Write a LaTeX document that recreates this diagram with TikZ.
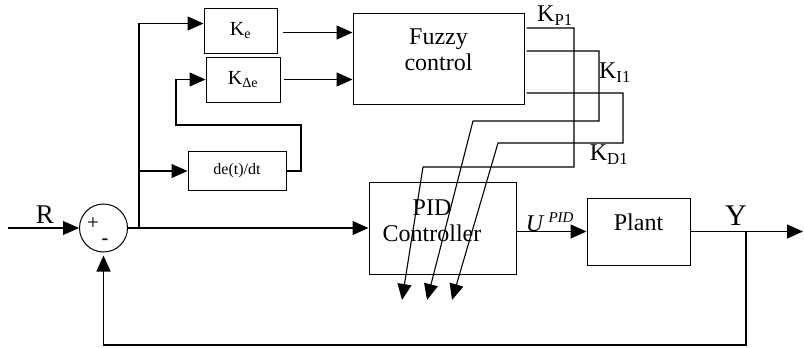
\documentclass[tikz,border=0pt]{standalone}
\usepackage{fontspec}
\setmainfont{Liberation Serif}
\usetikzlibrary{arrows.meta}

\tikzset{
    blk/.style={draw, line width=1pt, inner sep=0pt},
    sig/.style={line width=1.1pt},
    big/.style={font=\fontsize{24}{26}\selectfont},
}

\begin{document}
\begin{tikzpicture}[x=1pt, y=-1pt, >={Triangle[length=16pt,width=14pt]}]
    \useasboundingbox (0,0) rectangle (804,348);

    % Summing junction
    \node[blk, circle, minimum size=48pt] (sum) at (103.5,228) {};
    \node[font=\fontsize{21}{21}\selectfont] (plus) at (93,224) {+};
    \node[font=\fontsize{20}{20}\selectfont\bfseries] (minus) at (105,242) {-};

    % Reference input R
    \coordinate (rin) at (8,228);
    \draw[sig, ->] (rin) -- (sum.west);
    \node[font=\fontsize{27}{27}\selectfont] (rlab) at (45,215) {R};

    % Error branch
    \coordinate (b1) at (139,228);
    \draw[sig] (sum.east) -- (b1);

    % Gains and derivative
    \node[blk, minimum width=73pt, minimum height=45pt, font=\fontsize{20}{20}\selectfont] (ke) at (240.5,30.5) {K\textsubscript{e}};
    \node[blk, minimum width=74pt, minimum height=45pt, font=\fontsize{20}{20}\selectfont] (kde) at (243,79.5) {K\textsubscript{Δe}};
    \node[blk, minimum width=98pt, minimum height=39pt, font=\fontsize{16}{16}\selectfont] (dedt) at (237,171) {de(t)/dt};

    \draw[sig, ->] (b1) |- ([yshift=7pt]ke.west);
    \draw[sig, ->] (b1 |- dedt.west) -- (dedt.west);
    \coordinate (fb1) at (301,125);
    \coordinate (fb2) at (176,125);
    \draw[sig, ->] (dedt.east) -| (fb1) -- (fb2) |- (kde.west);

    % Fuzzy control
    \node[blk, minimum width=171pt, minimum height=91pt] (fuzzy) at (438.5,58.5) {};
    \node[big, align=center] (fuzzytxt) at (438.5,50) {Fuzzy\\control};
    \draw[sig, ->, shorten <=5pt] ([yshift=-2pt]ke.east) -- ([yshift=-2pt]ke.east -| fuzzy.west);
    \draw[sig, ->, shorten <=3pt] (kde.east) -- (kde.east -| fuzzy.west);

    % Tuned gains to PID
    \coordinate (p1) at (574,28);
    \coordinate (p2) at (574,167);
    \coordinate (p3) at (423,167);
    \coordinate (p4) at (402,300);
    \coordinate (i1) at (599,51);
    \coordinate (i2) at (599,121);
    \coordinate (i3) at (473,121);
    \coordinate (i4) at (427,300);
    \coordinate (d1) at (623,93);
    \coordinate (d2) at (623,143);
    \coordinate (d3) at (498,143);
    \coordinate (d4) at (452,300);
    \draw[sig, ->, shorten <=2pt] (fuzzy.east |- p1) -- (p1) -- (p2) -- (p3) -- (p4);
    \draw[sig, ->, shorten <=2pt] (fuzzy.east |- i1) -- (i1) -- (i2) -- (i3) -- (i4);
    \draw[sig, ->, shorten <=2pt] (fuzzy.east |- d1) -- (d1) -- (d2) -- (d3) -- (d4);
    \node[big] (kplab) at (555,16) {K\textsubscript{P1}};
    \node[big] (kilab) at (615,73) {K\textsubscript{I1}};
    \node[big] (kdlab) at (609,155) {K\textsubscript{D1}};

    % PID controller
    \node[blk, minimum width=147pt, minimum height=92pt] (pid) at (442.5,228) {};
    \node[big, align=center] (pidtxt) at (432,221) {PID\\Controller};
    \draw[sig, ->] (b1) -- (pid.west);

    % Plant
    \node[blk, minimum width=103pt, minimum height=67pt] (plant) at (638.5,231.5) {};
    \node[big] (planttxt) at (638.5,222) {Plant};
    \draw[sig, ->] (pid.east |- plant.west) -- (plant.west);
    \node[font=\fontsize{24}{24}\selectfont] (ulab) at (550,222) {\textit{U}\,\textsuperscript{\fontsize{15}{15}\selectfont\textit{PID}}};

    % Output Y and feedback
    \coordinate (yout) at (803,231.5);
    \coordinate (b2) at (746,231.5);
    \coordinate (fbr) at (746,345);
    \draw[sig, ->] (plant.east) -- (yout);
    \node[font=\fontsize{30}{30}\selectfont] (ylab) at (736,216) {Y};
    \draw[sig, ->, shorten >=3pt] (b2) -- (fbr) -| (sum.south);
\end{tikzpicture}
\end{document}
